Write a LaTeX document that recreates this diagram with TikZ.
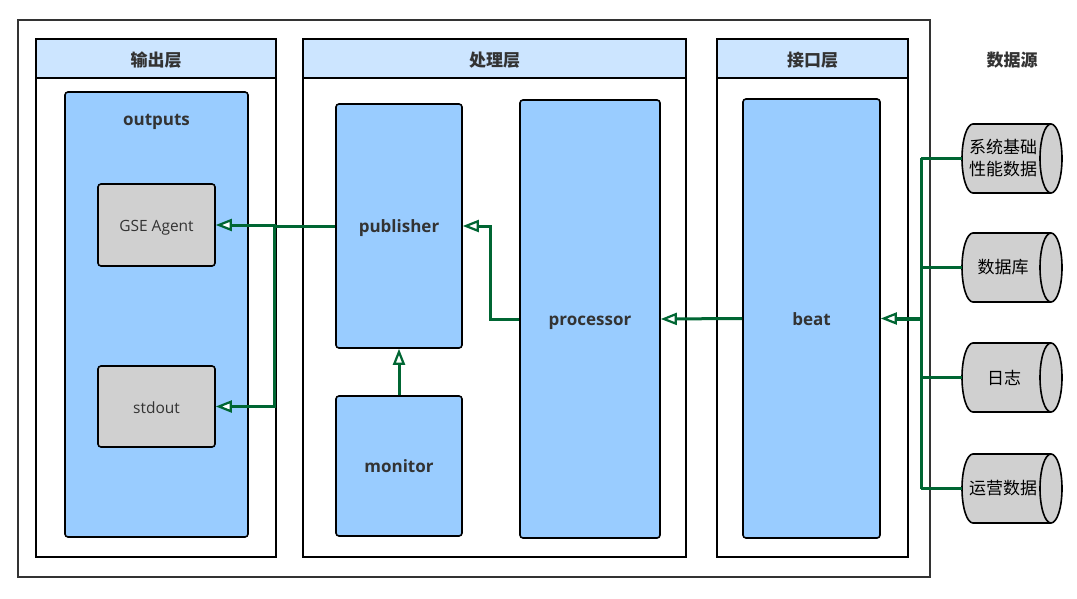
\documentclass[tikz,border=0pt]{standalone}
\usepackage{fontspec}
\setmainfont{Open Sans}
\newfontfamily\cjk{Noto Sans CJK SC}
\usetikzlibrary{arrows.meta}
\definecolor{hdr}{HTML}{CCE5FF}
\definecolor{boxb}{HTML}{99CCFF}
\definecolor{grayb}{HTML}{D0D0D0}
\definecolor{txt}{HTML}{333333}
\definecolor{grn}{RGB}{0,102,51}
\tikzset{
  panel/.style={draw=black,line width=2pt,fill=white,inner sep=0pt},
  phead/.style={draw=black,line width=2pt,fill=hdr,inner sep=0pt,text=txt,text height=17pt,text depth=1.5pt,font=\cjk\bfseries\fontsize{17}{20}\selectfont},
  bluebox/.style={draw=black,line width=1.6pt,fill=boxb,rounded corners=3pt,inner sep=0pt,text=txt,text height=17pt,text depth=3.5pt,font=\bfseries\fontsize{17}{20}\selectfont},
  graybox/.style={draw=black,line width=1.6pt,fill=grayb,rounded corners=3pt,inner sep=0pt,text=txt,text height=17pt,text depth=3.5pt,font=\fontsize{15.5}{18}\selectfont},
  dbbox/.style={minimum width=100pt,minimum height=69pt,inner sep=0pt,anchor=west},
  dbline/.style={draw=black,line width=1.6pt},
  dbtext/.style={text=black,font=\cjk\fontsize{17}{22}\selectfont,align=center,inner sep=0pt},
  conn/.style={draw=grn,line width=3pt},
  arr/.style={conn,-{Triangle[length=16pt,width=12pt,fill=white,line width=2.2pt]}},
}
\begin{document}
\begin{tikzpicture}[x=1pt,y=-1pt]
\useasboundingbox (0,0) rectangle (1077,599);
\draw[draw=txt,line width=2pt] (18,20) rectangle (930,577);
% panels
\node[panel,minimum width=240pt,minimum height=518pt] (p1) at (156,298) {};
\node[phead,minimum width=240pt,minimum height=39pt] (h1) at (156,58.5) {输出层};
\node[panel,minimum width=383pt,minimum height=518pt] (p2) at (494.5,298) {};
\node[phead,minimum width=383pt,minimum height=39pt] (h2) at (494.5,58.5) {处理层};
\node[panel,minimum width=191pt,minimum height=518pt] (p3) at (812.5,298) {};
\node[phead,minimum width=191pt,minimum height=39pt] (h3) at (812.5,58.5) {接口层};
\node[text=txt,font=\cjk\bfseries\fontsize{17}{20}\selectfont] (src) at (1012,60) {数据源};
% output layer
\node[bluebox,minimum width=183pt,minimum height=445pt] (outputs) at (156.5,314.5) {};
\node[text=txt,font=\bfseries\fontsize{17}{20}\selectfont] (outlbl) at (156.5,122) {outputs};
\node[graybox,minimum width=117pt,minimum height=82pt] (gse) at (156.5,225) {GSE Agent};
\node[graybox,minimum width=117pt,minimum height=81pt] (stdout) at (156.5,406.5) {stdout};
% processing layer
\node[bluebox,minimum width=126pt,minimum height=244pt] (publisher) at (399,226) {publisher};
\node[bluebox,minimum width=126pt,minimum height=140pt] (monitor) at (399,466) {monitor};
\node[bluebox,minimum width=140pt,minimum height=438pt] (processor) at (590,319) {processor};
% interface layer
\node[bluebox,minimum width=137pt,minimum height=439pt] (beat) at (811.5,318.5) {beat};
% data sources (cylinders)
\foreach \n/\yc in {c1/158.5,c2/267.5,c3/377.5,c4/488.5}{
  \node[dbbox] (\n) at (962,\yc) {};
  \filldraw[dbline,fill=grayb] (973,\yc-34.5) -- (1051,\yc-34.5)
    arc[start angle=-90,end angle=90,x radius=11,y radius=34.5]
    -- (973,\yc+34.5)
    arc[start angle=90,end angle=270,x radius=11,y radius=34.5] -- cycle;
  \draw[dbline] (1051,\yc-34.5) arc[start angle=-90,end angle=-270,x radius=11,y radius=34.5];
}
\node[dbtext] (t1) at ([xshift=41pt]c1.west) {系统基础\\性能数据};
\node[dbtext] (t2) at ([xshift=41pt]c2.west) {数据库};
\node[dbtext] (t3) at ([xshift=42pt]c3.west) {日志};
\node[dbtext] (t4) at ([xshift=41pt]c4.west) {运营数据};
% connectors
\coordinate (bus) at (921,318.5);
\draw[conn] (c1.west -| bus) -- (c4.west -| bus);
\draw[conn] (c1.west) -- (c1.west -| bus);
\draw[conn] (c2.west) -- (c2.west -| bus);
\draw[conn] (c3.west) -- (c3.west -| bus);
\draw[conn] (c4.west) -- (c4.west -| bus);
\draw[arr,line width=4pt] (bus) -- (beat.east);
\draw[arr] (beat.west) -- (processor.east);
\draw[arr] (processor.west) -- ++(-29,0) |- (publisher.east);
\draw[arr] (monitor.north) -- (publisher.south);
\draw[arr] (publisher.west) -- ++(-61,0) |- (gse.east);
\draw[arr] (publisher.west) -- ++(-61,0) |- (stdout.east);
\end{tikzpicture}
\end{document}
